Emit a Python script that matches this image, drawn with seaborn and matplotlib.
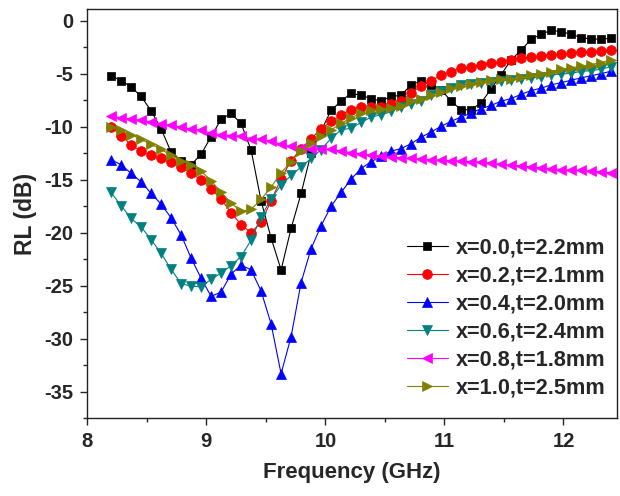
import matplotlib
matplotlib.use("Agg")
import matplotlib.pyplot as plt
from matplotlib.ticker import MultipleLocator
import pandas as pd
import seaborn as sns

# Measurement grid (GHz), X band 8.2-12.4 GHz, 51 points
freq = [8.2, 8.284, 8.368, 8.452, 8.536, 8.62, 8.704, 8.788, 8.872, 8.956,
        9.04, 9.124, 9.208, 9.292, 9.376, 9.46, 9.544, 9.628, 9.712, 9.796,
        9.88, 9.964, 10.048, 10.132, 10.216, 10.3, 10.384, 10.468, 10.552, 10.636,
        10.72, 10.804, 10.888, 10.972, 11.056, 11.14, 11.224, 11.308, 11.392, 11.476,
        11.56, 11.644, 11.728, 11.812, 11.896, 11.98, 12.064, 12.148, 12.232, 12.316,
        12.4]

rl_x00 = [-5.2, -5.65, -6.25, -7.15, -8.5, -10.2, -12.4, -13.2, -13.6, -12.6,
          -10.95, -9.3, -8.75, -9.7, -12.2, -17.0, -20.5, -23.5, -19.6, -16.3,
          -12.5, -10.4, -8.45, -7.6, -6.85, -7.05, -7.35, -7.6, -7.15, -7.05,
          -6.05, -5.7, -6.05, -6.5, -7.6, -8.4, -8.4, -7.75, -6.45, -5.1,
          -3.7, -2.8, -1.75, -1.3, -0.9, -1.05, -1.27, -1.6, -1.74, -1.74,
          -1.68]
rl_x02 = [-10.0, -10.85, -11.7, -12.3, -12.7, -13.0, -13.35, -13.85, -14.4, -15.0,
          -15.85, -16.85, -18.1, -19.25, -20.0, -19.0, -17.0, -14.9, -13.2, -12.1,
          -11.15, -10.2, -9.5, -8.9, -8.4, -8.1, -8.15, -8.1, -7.9, -7.6,
          -6.85, -6.15, -5.67, -5.15, -4.8, -4.5, -4.33, -4.18, -4.0, -3.87,
          -3.71, -3.55, -3.46, -3.33, -3.24, -3.17, -3.08, -2.99, -2.93, -2.86,
          -2.77]
rl_x04 = [-13.1, -13.6, -14.4, -15.2, -16.3, -17.3, -18.6, -20.2, -22.4, -24.3,
          -26.0, -25.6, -23.9, -23.05, -23.5, -25.5, -28.6, -33.3, -29.8, -24.7,
          -21.5, -19.35, -17.5, -16.2, -14.95, -13.95, -13.3, -12.8, -12.3, -12.07,
          -11.6, -11.0, -10.5, -9.97, -9.5, -9.09, -8.72, -8.3, -8.0, -7.6,
          -7.35, -6.95, -6.6, -6.37, -6.06, -5.85, -5.62, -5.4, -5.2, -5.0,
          -4.77]
rl_x06 = [-16.2, -17.45, -18.65, -19.45, -20.65, -21.95, -23.45, -24.8, -25.05, -25.1,
          -24.4, -23.8, -23.1, -22.25, -20.7, -18.5, -16.8, -15.5, -14.6, -13.8,
          -13.0, -12.16, -11.1, -10.3, -10.15, -9.6, -9.1, -8.87, -8.56, -8.1,
          -7.87, -7.62, -7.06, -6.62, -6.37, -6.06, -5.95, -5.9, -5.75, -5.68,
          -5.59, -5.49, -5.43, -5.27, -5.12, -5.05, -4.96, -4.8, -4.71, -4.58,
          -4.33]
rl_x08 = [-8.95, -9.19, -9.28, -9.41, -9.56, -9.72, -9.88, -10.03, -10.22, -10.35,
          -10.6, -10.75, -10.85, -10.9, -11.13, -11.2, -11.38, -11.65, -11.85, -12.0,
          -12.1, -12.1, -12.15, -12.3, -12.45, -12.55, -12.7, -12.8, -12.85, -12.95,
          -13.0, -13.05, -13.1, -13.15, -13.2, -13.25, -13.3, -13.35, -13.45, -13.55,
          -13.65, -13.7, -13.8, -13.9, -13.95, -14.04, -14.1, -14.13, -14.2, -14.25,
          -14.35]
rl_x10 = [-10.0, -10.35, -10.75, -11.2, -11.65, -12.15, -12.7, -13.25, -13.6, -14.2,
          -15.1, -16.2, -17.2, -18.0, -17.8, -16.85, -15.7, -14.35, -13.3, -12.25,
          -11.5, -10.9, -10.3, -9.7, -9.15, -8.75, -8.45, -8.34, -8.25, -8.05,
          -7.62, -7.4, -7.0, -6.75, -6.4, -6.15, -5.95, -5.75, -5.63, -5.5,
          -5.49, -5.35, -5.15, -5.0, -4.8, -4.6, -4.45, -4.28, -4.14, -3.97,
          -3.68]

labels = ["x=0.0,t=2.2mm", "x=0.2,t=2.1mm", "x=0.4,t=2.0mm",
          "x=0.6,t=2.4mm", "x=0.8,t=1.8mm", "x=1.0,t=2.5mm"]
series = [rl_x00, rl_x02, rl_x04, rl_x06, rl_x08, rl_x10]
colors = ["#000000", "#FF0000", "#0000FF", "#008080", "#FF00FF", "#808000"]
markers = ["s", "o", "^", "v", "<", ">"]
msizes = [6.0, 7.0, 7.2, 7.2, 7.2, 7.2]

sns.set_style("ticks")
plt.rcParams["font.family"] = ["Liberation Sans", "DejaVu Sans"]
plt.rcParams["font.weight"] = "bold"
plt.rcParams["axes.unicode_minus"] = False

fig = plt.figure(figsize=(6.2, 4.96), dpi=100)
ax = fig.add_axes([0.1408, 0.1567, 0.8544, 0.8246])

for lab, vals, col, mk, ms in zip(labels, series, colors, markers, msizes):
    df = pd.DataFrame({"Frequency": freq, "RL": vals})
    sns.lineplot(data=df, x="Frequency", y="RL", ax=ax, color=col,
                 marker=mk, markersize=ms, markeredgecolor=col,
                 markeredgewidth=0.5, linewidth=0.8, label=lab,
                 sort=False, estimator=None)

ax.set_xlim(8, 12.45)
ax.set_ylim(-37.5, 1.07)
ax.xaxis.set_major_locator(MultipleLocator(1))
ax.xaxis.set_minor_locator(MultipleLocator(0.5))
ax.yaxis.set_major_locator(MultipleLocator(5))
ax.yaxis.set_minor_locator(MultipleLocator(2.5))

for s in ax.spines.values():
    s.set_linewidth(1.0)
    s.set_color("#222222")
ax.tick_params(which="major", direction="out", length=5, width=1.0,
               labelsize=14.5, pad=5, top=False, right=False)
ax.tick_params(which="minor", direction="out", length=3, width=1.0,
               top=False, right=False)
for t in ax.get_xticklabels() + ax.get_yticklabels():
    t.set_fontweight("bold")

ax.set_xlabel("Frequency (GHz)", fontsize=16, fontweight="bold", labelpad=8)
ax.set_ylabel("RL (dB)", fontsize=16.5, fontweight="bold", labelpad=5)

leg = ax.legend(loc="upper left", bbox_to_anchor=(0.6036, 0.441),
                frameon=False, borderpad=0, borderaxespad=0,
                handlelength=1.88, handletextpad=0.37, labelspacing=0.32,
                prop={"weight": "bold", "size": 15.6})

fig.savefig("out.png", dpi=100, facecolor="white")
